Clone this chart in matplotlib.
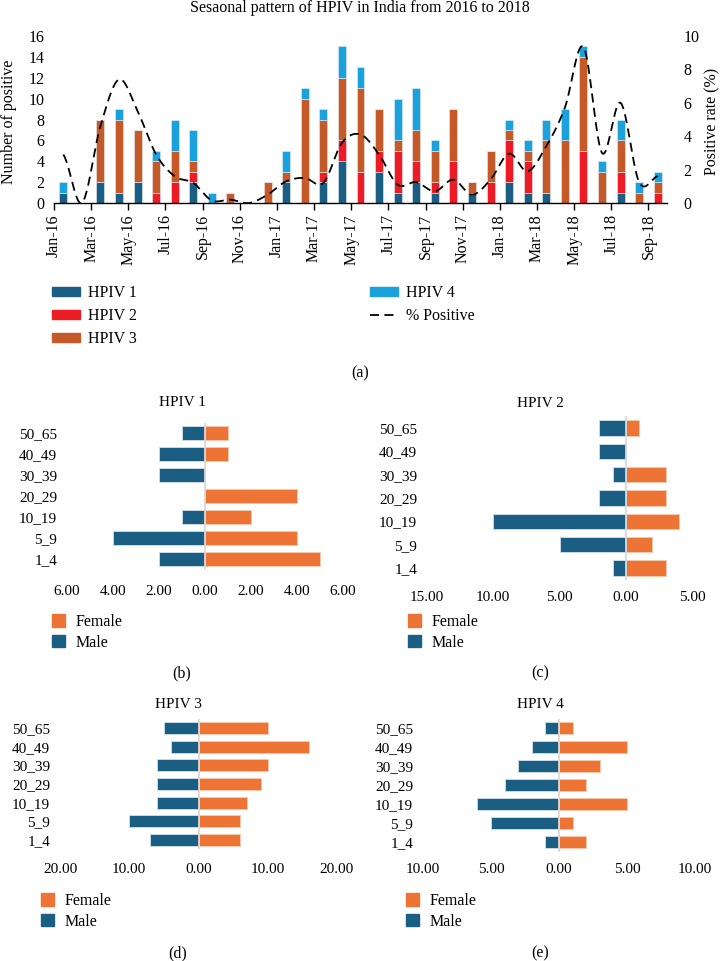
import numpy as np
import matplotlib.pyplot as plt
from matplotlib.patches import Patch
from matplotlib.lines import Line2D

plt.rcParams['font.family'] = ['Liberation Serif', 'DejaVu Serif']

W, H = 721, 961

month_names = ['Jan', 'Feb', 'Mar', 'Apr', 'May', 'Jun',
               'Jul', 'Aug', 'Sep', 'Oct', 'Nov', 'Dec']
months = [f'{m}-{y}' for y in (16, 17, 18) for m in month_names][:33]

hpiv1 = [1, 0, 2, 1, 2, 0, 0, 2, 0, 0, 0, 0, 2, 0, 2, 4, 0, 3, 1, 2, 1, 0, 1, 0, 2, 1, 1, 0, 0, 0, 1, 0, 0]
hpiv2 = [0, 0, 0, 0, 0, 1, 2, 1, 0, 0, 0, 0, 0, 0, 1, 2, 3, 2, 4, 2, 1, 4, 0, 2, 4, 3, 0, 0, 5, 0, 2, 0, 1]
hpiv3 = [0, 0, 6, 7, 5, 3, 3, 1, 0, 1, 0, 2, 1, 10, 5, 6, 8, 4, 1, 3, 3, 5, 1, 3, 1, 1, 5, 6, 9, 3, 3, 1, 1]
hpiv4 = [1, 0, 0, 1, 0, 1, 3, 3, 1, 0, 0, 0, 2, 1, 1, 3, 2, 0, 4, 4, 1, 0, 0, 0, 1, 1, 2, 3, 1, 1, 2, 1, 1]
pct_positive = [2.9, 0.0, 4.6, 7.4, 5.5, 2.9, 1.6, 1.2, 0.15, 0.2,
                0.0, 0.5, 1.3, 1.5, 1.2, 3.6, 4.1, 2.9, 1.1, 1.25,
                0.7, 1.4, 0.5, 1.4, 2.95, 1.9, 3.4, 5.7, 9.35, 3.0,
                6.0, 1.25, 1.6]

age_groups = ['1_4', '5_9', '10_19', '20_29', '30_39', '40_49', '50_65']
h1_male = [2, 4, 1, 0, 2, 2, 1]
h1_female = [5, 4, 2, 4, 0, 1, 1]
h2_male = [1, 5, 10, 2, 1, 2, 2]
h2_female = [3, 2, 4, 3, 3, 0, 1]
h3_male = [7, 10, 6, 6, 6, 4, 5]
h3_female = [6, 6, 7, 9, 10, 16, 10]
h4_male = [1, 5, 6, 4, 3, 2, 1]
h4_female = [2, 1, 5, 2, 3, 5, 1]

c_h1, c_h2, c_h3, c_h4 = '#1a5f83', '#ed1c24', '#c55a28', '#1ba1dc'
c_male, c_female = '#1a5f83', '#ed7434'


def px_axes(fig, x0, y0, x1, y1):
    return fig.add_axes([x0 / W, 1 - y1 / H, (x1 - x0) / W, (y1 - y0) / H])


def catmull_rom(y, n=24):
    # smoothed line like a spreadsheet "smooth line"
    y = np.asarray(y, float)
    p = np.concatenate([[y[0]], y, [y[-1]]])
    xs, ys = [], []
    t = np.linspace(0, 1, n, endpoint=False)
    for i in range(len(y) - 1):
        p0, p1, p2, p3 = p[i], p[i + 1], p[i + 2], p[i + 3]
        m1 = (p2 - p0) / 2
        m2 = (p3 - p1) / 2
        h00 = 2 * t**3 - 3 * t**2 + 1
        h10 = t**3 - 2 * t**2 + t
        h01 = -2 * t**3 + 3 * t**2
        h11 = t**3 - t**2
        xs.append(i + t)
        ys.append(h00 * p1 + h10 * m1 + h01 * p2 + h11 * m2)
    xs.append([len(y) - 1])
    ys.append([y[-1]])
    return np.concatenate(xs), np.concatenate(ys)


fig = plt.figure(figsize=(W / 100, H / 100), dpi=100)

# ---- (a) seasonal pattern ----
ax = px_axes(fig, 54, 36, 667, 203)
x = np.arange(len(months))
bw = 0.43
ek = dict(edgecolor='#e8eef4', linewidth=0.4)
b = np.zeros(len(x))
for vals, col, lab in [(hpiv1, c_h1, 'HPIV 1'), (hpiv2, c_h2, 'HPIV 2'),
                       (hpiv3, c_h3, 'HPIV 3'), (hpiv4, c_h4, 'HPIV 4')]:
    ax.bar(x, vals, bw, bottom=b, color=col, label=lab, **ek)
    b += np.array(vals)
ax.set_xlim(-0.5, len(x) - 0.5)
ax.set_ylim(0, 16)
ax.set_yticks(range(0, 17, 2))
ax.set_xticks(x[::2] - 0.5)
ax.set_xticklabels(months[::2], rotation=90, fontsize=11.5)
ax.tick_params(axis='x', length=5, width=1, pad=3)
ax.tick_params(axis='y', length=0, pad=7, labelsize=11.5)
for s in ['left', 'right', 'top']:
    ax.spines[s].set_visible(False)
ax.spines['bottom'].set_linewidth(1)

ax2 = ax.twinx()
sx, sy = catmull_rom(pct_positive)
ax2.plot(sx, sy, color='black', lw=1.3, ls=(0, (5, 3)))
ax2.set_ylim(0, 10)
ax2.set_yticks(range(0, 11, 2))
ax2.tick_params(axis='y', length=0, pad=12, labelsize=11.5)
for s in ['left', 'right', 'top', 'bottom']:
    ax2.spines[s].set_visible(False)

fig.text(360 / W, 1 - 8 / H, 'Sesaonal pattern of HPIV in India from 2016 to 2018',
         ha='center', va='center', fontsize=11.5)
fig.text(9 / W, 1 - 122 / H, 'Number of positive', rotation=90,
         ha='center', va='center', fontsize=11.5)
fig.text(712 / W, 1 - 121 / H, 'Positive rate (%)', rotation=90,
         ha='center', va='center', fontsize=11.5)

handles = [Patch(color=c_h1), Patch(color=c_h2), Patch(color=c_h3), Patch(color=c_h4),
           Line2D([], [], color='black', lw=1.3, ls=(0, (5, 3)))]
labels = ['HPIV 1', 'HPIV 2', 'HPIV 3', 'HPIV 4', '% Positive']
fig.legend(handles, labels, loc='upper left', bbox_to_anchor=(52 / W, 1 - 285 / H),
           ncol=2, frameon=False, fontsize=11.5, borderpad=0, borderaxespad=0,
           handlelength=1.75, handleheight=0.5, handletextpad=0.5,
           labelspacing=0.45, columnspacing=14.6)
fig.text(360 / W, 1 - 373 / H, '(a)', ha='center', va='center', fontsize=11.5)


# ---- (b)-(e) age/sex pyramids ----
def pyramid(box, male, female, lim, step, title, tx, ty, tag, tag_y, leg_y, leg_x, xpad):
    a = px_axes(fig, *box)
    y = np.arange(len(age_groups))
    a.barh(y, -np.array(male), 0.65, color=c_male, edgecolor='#c9d9e6', linewidth=0.7)
    a.barh(y, female, 0.65, color=c_female, edgecolor='#f6c8ae', linewidth=0.7)
    a.axvline(0, color='#d9d9d9', lw=1.3)
    a.set_xlim(-lim[0], lim[1])
    a.set_ylim(-0.5, len(age_groups) - 0.5)
    ticks = np.arange(-lim[0], lim[1] + 0.01, step)
    a.set_xticks(ticks)
    a.set_xticklabels([f'{abs(t):.2f}' for t in ticks])
    a.set_yticks(y)
    a.set_yticklabels(age_groups)
    a.tick_params(length=0, labelsize=11)
    a.tick_params(axis='x', pad=xpad)
    a.tick_params(axis='y', pad=7)
    for s in a.spines.values():
        s.set_visible(False)
    fig.text(tx / W, 1 - ty / H, title, ha='center', va='center', fontsize=11)
    fig.text(tx / W, 1 - tag_y / H, tag, ha='center', va='center', fontsize=11.5)
    fig.legend([Patch(color=c_female), Patch(color=c_male)], ['Female', 'Male'],
               loc='upper left', bbox_to_anchor=(leg_x / W, 1 - leg_y / H),
               frameon=False, fontsize=11.5, borderpad=0, borderaxespad=0,
               handlelength=0.8, handleheight=0.8, handletextpad=0.65,
               labelspacing=0.3)


pyramid((67, 422.5, 343, 569.5), h1_male, h1_female, (6, 6), 2, 'HPIV 1',
        182, 402, '(b)', 673, 614, 52, 11)
pyramid((427, 416.3, 692, 579.7), h2_male, h2_female, (15, 5), 5, 'HPIV 2',
        540, 403, '(c)', 673, 614, 408, 8)
pyramid((60, 718.7, 337, 849.3), h3_male, h3_female, (20, 20), 10, 'HPIV 3',
        178, 705, '(d)', 953, 893, 41, 10)
pyramid((423, 718.5, 695, 851.5), h4_male, h4_female, (10, 10), 5, 'HPIV 4',
        540, 705, '(e)', 953, 893, 406, 8)

fig.savefig('out.png', dpi=100)
